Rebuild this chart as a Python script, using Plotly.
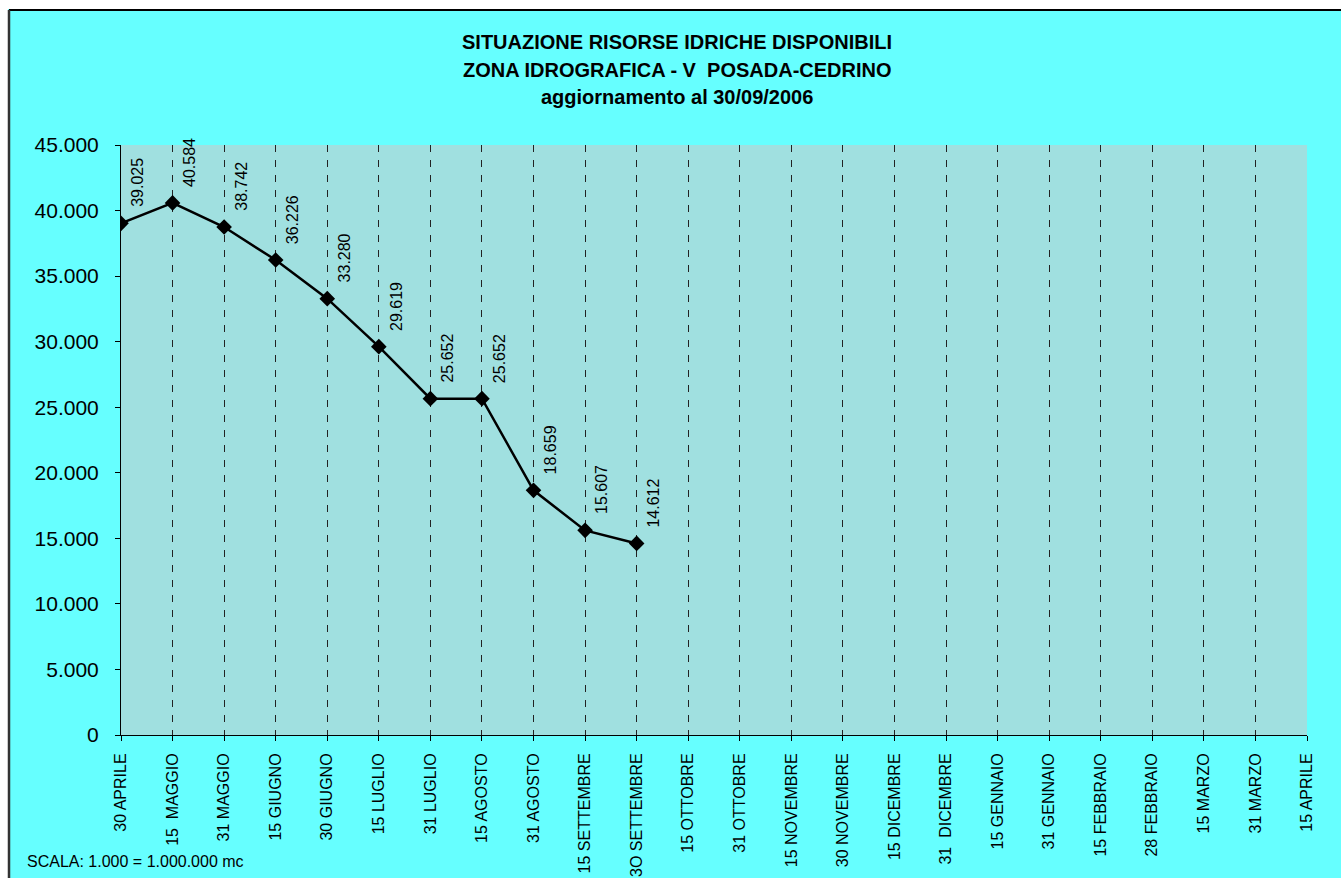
import plotly.graph_objects as go

categories = ["30 APRILE", "15  MAGGIO", "31 MAGGIO", "15 GIUGNO", "30 GIUGNO", "15 LUGLIO",
              "31 LUGLIO", "15 AGOSTO", "31 AGOSTO", "15 SETTEMBRE", "3O SETTEMBRE",
              "15 OTTOBRE", "31 OTTOBRE", "15 NOVEMBRE", "30 NOVEMBRE", "15 DICEMBRE",
              "31  DICEMBRE", "15 GENNAIO", "31 GENNAIO", "15 FEBBRAIO", "28 FEBBRAIO",
              "15 MARZO", "31 MARZO", "15 APRILE"]
values = [39025, 40584, 38742, 36226, 33280, 29619, 25652, 25652, 18659, 15607, 14612]
y_ticks = [0, 5000, 10000, 15000, 20000, 25000, 30000, 35000, 40000, 45000]

W, H = 1341, 878
L, R, T, B = 121, 34, 145, 143
PW, PH = W - L - R, H - T - B


def px(x):
    return (x - L) / PW


def py(y):
    return (H - B - y) / PH


def it(n):
    return f"{n:,}".replace(",", ".")


FONT = "Liberation Sans, Arial, sans-serif"

fig = go.Figure()
fig.add_trace(go.Scatter(
    x=categories[:len(values)], y=values, mode="lines+markers",
    line=dict(color="black", width=2.5),
    marker=dict(symbol="diamond", size=12, color="black"),
    hoverinfo="skip", showlegend=False,
))

annotations = []
for c, v in zip(categories, values):
    annotations.append(dict(x=c, y=v, xref="x", yref="y", text=it(v), textangle=-90,
                            showarrow=False, xanchor="center", yanchor="bottom",
                            xshift=17, yshift=14, font=dict(size=16, color="black", family=FONT)))

title_lines = ["<b>SITUAZIONE RISORSE IDRICHE DISPONIBILI</b>",
               "<b>ZONA IDROGRAFICA - V  POSADA-CEDRINO</b>",
               "<b>aggiornamento al 30/09/2006</b>"]
for i, t in enumerate(title_lines):
    annotations.append(dict(x=px(677), y=py(42 + i * 27.5), xref="paper", yref="paper", text=t,
                            showarrow=False, xanchor="center", yanchor="middle",
                            font=dict(size=20, color="black", family=FONT)))
annotations.append(dict(x=px(25), y=py(861), xref="paper", yref="paper",
                        text="SCALA: 1.000 = 1.000.000 mc", showarrow=False,
                        xanchor="left", yanchor="middle",
                        font=dict(size=16, color="black", family=FONT)))

shapes = [
    dict(type="rect", xref="paper", yref="paper", x0=px(-5), x1=px(W + 5), y0=py(-5), y1=py(9),
         fillcolor="white", line=dict(width=0), layer="above"),
    dict(type="rect", xref="paper", yref="paper", x0=px(-5), x1=px(8), y0=py(-5), y1=py(H + 5),
         fillcolor="white", line=dict(width=0), layer="above"),
    dict(type="line", xref="paper", yref="paper", x0=px(9), x1=px(W + 5), y0=py(10), y1=py(10),
         line=dict(color="black", width=2), layer="above"),
    dict(type="line", xref="paper", yref="paper", x0=px(9), x1=px(9), y0=py(10), y1=py(H + 5),
         line=dict(color="#333333", width=2.5), layer="above"),
]

fig.update_layout(
    width=W, height=H,
    margin=dict(l=L, r=R, t=T, b=B, pad=0, autoexpand=False),
    paper_bgcolor="#66FFFF",
    plot_bgcolor="#A0E0E0",
    separators=",.",
    font=dict(family=FONT, color="black"),
    annotations=annotations,
    shapes=shapes,
    xaxis=dict(type="category", categoryorder="array", categoryarray=categories,
               tickmode="array", tickvals=categories, ticktext=categories,
               range=[0, len(categories) - 1], showgrid=True, gridcolor="#222222", gridwidth=1,
               griddash="7px,8px", showline=True, linecolor="black", linewidth=1,
               ticks="outside", ticklen=5, tickcolor="black", tickangle=-90,
               tickfont=dict(size=16, family=FONT, color="black"), ticklabelstandoff=6,
               zeroline=False, fixedrange=True, automargin=False),
    yaxis=dict(range=[0, 45000], tickmode="array", tickvals=y_ticks,
               ticktext=[it(v) for v in y_ticks], showgrid=False, zeroline=False,
               showline=True, linecolor="black", linewidth=1, ticks="outside", ticklen=5,
               tickcolor="black", tickfont=dict(size=21, family=FONT, color="black"),
               ticklabelstandoff=12, fixedrange=True, automargin=False),
)

fig.write_html("out.html", config={"displayModeBar": False, "staticPlot": True},
               post_script="document.body.style.margin='0';document.body.style.overflow='hidden';")
